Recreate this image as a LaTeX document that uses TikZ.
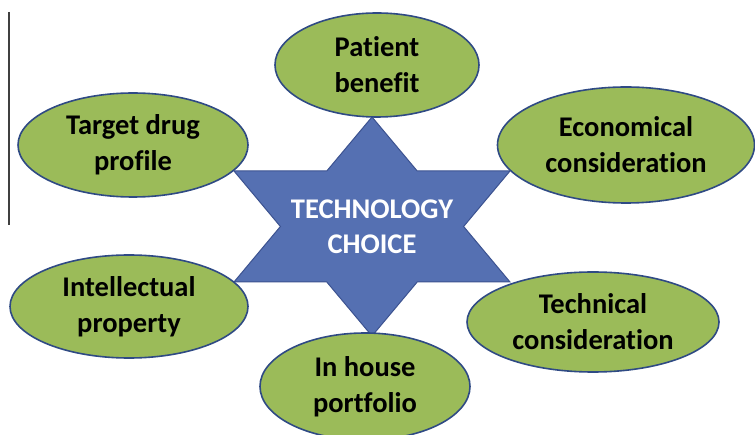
\documentclass[tikz,border=0pt]{standalone}
\usepackage{fontspec}
\setmainfont[Ligatures=NoCommon]{Carlito}
\usetikzlibrary{shapes.geometric}
\definecolor{leaf}{HTML}{9BBB59}
\definecolor{rim}{HTML}{2F4A84}
\definecolor{starfill}{HTML}{5570B2}
\definecolor{staredge}{HTML}{3C5290}
\tikzset{
  bubble/.style={ellipse, draw=rim, line width=1.6pt, fill=leaf, inner sep=0pt,
    align=center, text=black, font=\fontsize{28.5}{36}\selectfont\bfseries},
  startext/.style={align=center, text=white, font=\fontsize{28.5}{35}\selectfont\bfseries},
  rule/.style={draw=black!75, line width=1.3pt}
}
\begin{document}
\begin{tikzpicture}[x=1pt,y=-1pt]
\clip (0,0) rectangle (755,435);
\fill[white] (0,0) rectangle (755,435);
% left rule
\coordinate (r1) at (9,12);
\coordinate (r2) at (9,225);
\draw[rule] (r1) -- (r2);
% star
\draw[fill=starfill, draw=staredge, line width=1pt, line join=miter]
  (372,117) -- (417.2,171) -- (510,171) -- (463.6,226.5) -- (510,282) -- (417.2,282)
  -- (372,336) -- (326.8,282) -- (234,282) -- (280.4,226.5) -- (234,171) -- (326.8,171) -- cycle;
\node[startext] (choice) at (372,227) {TECHNOLOGY\\CHOICE};
% bubbles
\node[bubble, minimum width=204pt, minimum height=104pt] (patient) at (377,65) {Patient\\benefit};
\node[bubble, minimum width=230pt, minimum height=104pt] (target) at (133,145) {Target drug\\profile};
\node[bubble, minimum width=257pt, minimum height=116pt] (econ) at (626,145) {Economical\\consideration};
\node[bubble, minimum width=238pt, minimum height=103pt] (ip) at (129,306.5) {Intellectual\\property};
\node[bubble, minimum width=252pt, minimum height=100pt] (tech) at (593,322) {Technical\\consideration};
\node[bubble, minimum width=210pt, minimum height=107pt] (house) at (365,386.5) {In house\\portfolio};
\end{tikzpicture}
\end{document}
